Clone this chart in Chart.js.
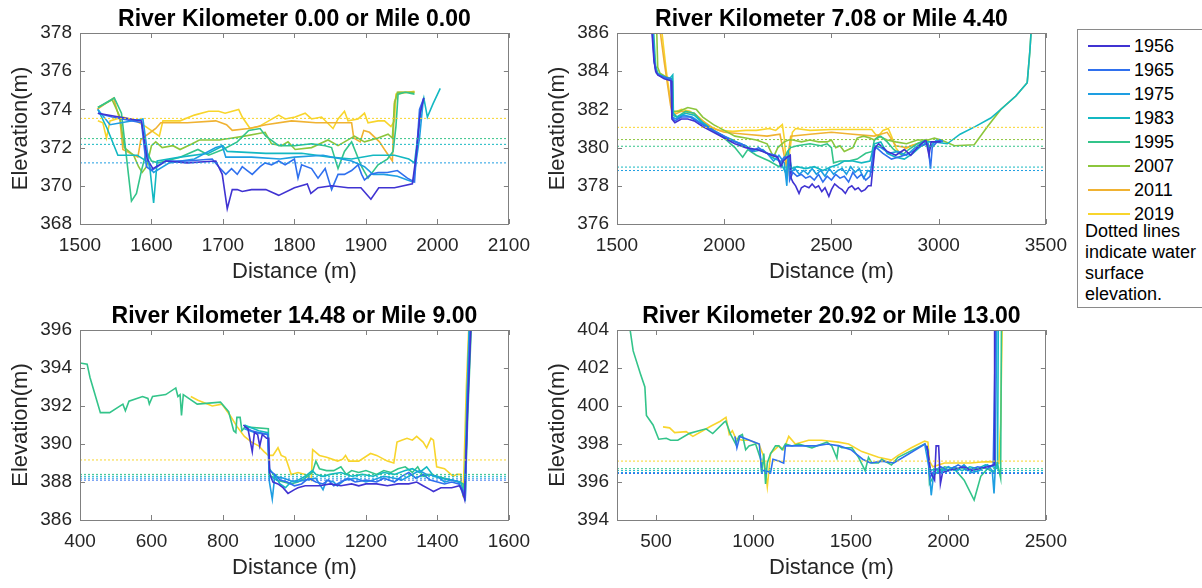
<!DOCTYPE html>
<html>
<head>
<meta charset="utf-8">
<script src="https://cdn.jsdelivr.net/npm/chart.js@4.4.1/dist/chart.umd.min.js"></script>
<style>
    body { margin: 0; background: #fff; width: 1202px; height: 588px; overflow: hidden; position: relative;
           font-family: "Liberation Sans", Arial, sans-serif; }
    canvas { position: absolute; }
    #legend { position: absolute; left: 1077px; top: 29px; width: 150px; height: 277px;
              border: 1px solid #8a8a8a; background: #fff; }
    .lg-line { position: absolute; left: 10px; width: 42px; height: 1.5px; }
    .lg-text { position: absolute; left: 56px; font-size: 18px; color: #000; line-height: 20px; }
    .lg-note { position: absolute; left: 7px; font-size: 18px; color: #000; line-height: 21px; top: 191px; }
</style>
</head>
<body>
<canvas id="c1" width="540" height="290" style="left:0;top:0"></canvas>
<canvas id="c2" width="540" height="290" style="left:537px;top:0"></canvas>
<canvas id="c3" width="540" height="289" style="left:0;top:297px"></canvas>
<canvas id="c4" width="540" height="289" style="left:537px;top:297px"></canvas>
<div id="legend"></div>
<script>
(function () {
    const years = ['1956', '1965', '1975', '1983', '1995', '2007', '2011', '2019'];
    const yearColors = ['#4033d2', '#2f70ee', '#1e9ee2', '#13b8c2', '#33c48a', '#8cc63c', '#f0b232', '#f8d52c'];
    const tickColor = '#262626';
    const frameColor = '#808080';
    const fontFamily = '"Liberation Sans", Arial, sans-serif';

    // ---- River Kilometer 0.00 ----
    const p1Title = 'River Kilometer 0.00 or Mile 0.00';
    const p1XTicks = [1500, 1600, 1700, 1800, 1900, 2000, 2100];
    const p1YTicks = [368, 370, 372, 374, 376, 378];
    const p1_1956 = [[1525,373.8],[1586,373.4],[1594,371.4],[1602,370.9],[1620,371.3],[1650,371.2],[1690,371.3],[1699,370.6],[1706,368.8],[1713,369.8],[1720,369.8],[1727,369.7],[1740,369.8],[1760,369.8],[1778,369.5],[1800,369.9],[1818,370.1],[1823,369.6],[1833,369.9],[1852,370.0],[1875,369.9],[1893,369.9],[1907,369.3],[1918,369.9],[1940,369.9],[1965,370.1],[1970,371.5],[1976,373.8],[1981,374.6]];
    const p1_1965 = [[1525,373.8],[1545,373.6],[1586,373.3],[1593,371.0],[1600,370.8],[1620,371.3],[1650,371.3],[1685,371.4],[1694,371.0],[1704,370.6],[1712,370.9],[1720,370.6],[1727,371.0],[1734,370.8],[1741,370.6],[1752,371.0],[1759,371.2],[1768,371.1],[1778,371.3],[1787,371.1],[1800,371.4],[1805,370.4],[1810,371.1],[1824,370.9],[1833,370.4],[1843,370.9],[1852,369.8],[1861,370.6],[1870,370.6],[1880,370.8],[1889,371.1],[1894,370.6],[1898,370.3],[1907,370.6],[1917,370.7],[1930,370.7],[1944,370.8],[1958,370.4],[1968,370.2],[1975,374.0],[1981,374.6]];
    const p1_1975 = [[1525,374.0],[1542,373.2],[1588,373.5],[1597,371.0],[1603,370.7],[1625,371.2],[1660,371.4],[1690,372.0],[1699,372.1],[1704,371.5],[1740,371.5],[1780,371.4],[1800,371.5],[1840,371.6],[1880,371.3],[1898,371.0],[1910,370.6],[1925,370.6],[1944,370.5],[1958,370.3],[1966,370.2],[1975,372.5],[1980,374.4]];
    const p1_1983 = [[1525,374.0],[1538,373.0],[1553,371.6],[1580,371.6],[1597,371.2],[1603,369.1],[1608,371.3],[1640,371.5],[1680,371.7],[1700,372.1],[1706,371.8],[1760,371.7],[1810,371.7],[1850,371.5],[1880,371.4],[1910,371.6],[1940,371.6],[1960,371.4],[1968,371.2],[1972,372.4],[1977,374.0],[1981,374.6],[1986,373.6],[1994,374.3],[2004,375.1]];
    const p1_1995 = [[1525,374.1],[1548,374.6],[1558,373.8],[1565,371.5],[1572,369.2],[1579,369.6],[1586,370.8],[1593,371.8],[1600,371.3],[1610,371.2],[1640,371.5],[1665,371.9],[1680,371.6],[1700,371.9],[1720,372.3],[1736,372.9],[1752,373.0],[1760,372.6],[1778,372.1],[1800,372.1],[1824,372.2],[1843,372.1],[1852,372.0],[1861,370.9],[1870,371.8],[1880,372.3],[1894,371.0],[1903,370.4],[1917,371.1],[1930,371.4],[1938,371.8],[1942,373.1],[1945,374.8],[1955,374.9],[1968,374.8]];
    const p1_2007 = [[1525,374.1],[1545,374.5],[1556,373.6],[1562,372.0],[1575,371.6],[1582,371.0],[1587,370.7],[1593,371.0],[1600,372.1],[1606,372.3],[1615,372.0],[1630,372.1],[1640,371.9],[1657,372.2],[1667,372.4],[1695,372.4],[1713,372.5],[1730,372.6],[1759,372.8],[1768,372.2],[1782,372.1],[1791,372.3],[1801,371.9],[1824,372.0],[1847,372.4],[1861,372.1],[1884,372.6],[1898,372.3],[1917,372.5],[1931,372.7],[1937,372.5],[1940,374.3],[1944,374.9],[1968,374.9]];
    const p1_2011 = [[1524,374.0],[1547,374.6],[1556,373.4],[1560,371.9],[1581,371.5],[1585,372.4],[1595,372.7],[1606,373.0],[1613,373.3],[1650,373.3],[1690,373.4],[1705,373.2],[1713,372.9],[1736,373.0],[1760,373.2],[1796,373.4],[1830,373.3],[1853,373.3],[1880,373.3],[1883,372.5],[1892,372.3],[1897,372.9],[1905,372.8],[1919,372.3],[1926,371.9],[1937,371.3],[1940,374.4],[1945,374.9],[1968,374.9]];
    const p1_2019 = [[1525,373.4],[1532,373.3],[1537,372.5],[1542,373.4],[1560,373.6],[1578,373.4],[1592,373.1],[1611,372.6],[1616,373.4],[1640,373.4],[1660,373.7],[1680,373.9],[1694,373.9],[1703,373.8],[1722,374.0],[1727,373.6],[1738,373.0],[1750,373.1],[1764,373.4],[1778,373.7],[1787,373.5],[1801,373.6],[1815,373.8],[1824,373.5],[1838,373.6],[1854,373.0],[1861,373.5],[1870,373.9],[1875,373.4],[1889,373.5],[1898,373.8],[1903,373.3],[1917,373.4],[1926,373.4],[1935,373.1],[1940,373.4],[1942,374.8],[1968,374.95]];
    const p1Wse = [null, null, 371.2, 372.17, 372.47, null, null, 373.53];

    // ---- River Kilometer 7.08 ----
    const p2Title = 'River Kilometer 7.08 or Mile 4.40';
    const p2XTicks = [1500, 2000, 2500, 3000, 3500];
    const p2YTicks = [376, 378, 380, 382, 384, 386];
    const p2_1956 = [[1662,386.2],[1672,384.6],[1680,384.0],[1690,383.8],[1720,383.6],[1752,383.5],[1756,381.5],[1770,381.3],[1800,381.5],[1830,381.5],[1860,381.4],[1900,381.1],[1950,380.8],[2000,380.5],[2050,380.2],[2100,380.0],[2150,379.9],[2180,379.8],[2220,379.6],[2250,379.5],[2265,379.0],[2275,379.3],[2295,379.5],[2308,379.6],[2312,378.4],[2320,378.2],[2333,378.0],[2349,377.6],[2360,377.9],[2375,378.0],[2395,377.9],[2410,378.1],[2425,377.9],[2440,378.0],[2455,377.7],[2470,377.9],[2488,377.45],[2500,377.8],[2515,378.1],[2535,377.9],[2550,377.8],[2565,377.6],[2580,377.9],[2595,378.0],[2610,377.8],[2625,377.9],[2640,377.7],[2657,377.8],[2672,378.0],[2685,378.0],[2690,378.6],[2703,380.0],[2720,380.2],[2760,379.8],[2800,379.6],[2840,379.9],[2870,379.6],[2900,380.0],[2940,380.4],[2955,379.6],[2965,380.3],[3010,380.3]];
    const p2_1965 = [[1664,386.2],[1674,384.5],[1682,384.0],[1692,383.8],[1720,383.7],[1752,383.6],[1757,381.6],[1770,381.4],[1800,381.6],[1840,381.6],[1870,381.4],[1900,381.2],[1950,380.9],[2000,380.6],[2050,380.3],[2100,380.1],[2130,379.8],[2160,380.0],[2200,379.7],[2240,379.6],[2260,379.2],[2280,379.5],[2300,379.5],[2305,378.3],[2320,378.7],[2340,378.5],[2360,378.6],[2380,378.4],[2400,378.5],[2420,378.3],[2440,378.6],[2460,378.2],[2480,378.5],[2500,378.3],[2520,378.6],[2540,378.4],[2560,378.5],[2580,378.2],[2600,378.7],[2620,378.4],[2640,378.6],[2660,378.3],[2680,378.5],[2695,379.8],[2710,380.0],[2740,379.7],[2780,379.4],[2810,379.5],[2840,379.6],[2880,379.8],[2920,380.1],[2950,380.2],[2962,378.9],[2970,380.0],[3000,380.4],[3020,380.3]];
    const p2_1975 = [[1666,386.2],[1675,384.4],[1684,383.9],[1700,383.8],[1740,383.6],[1754,383.5],[1758,381.6],[1775,381.5],[1810,381.7],[1850,381.6],[1890,381.3],[1930,381.0],[1980,380.7],[2030,380.4],[2080,380.2],[2120,379.9],[2160,379.9],[2200,379.7],[2230,379.3],[2255,379.6],[2280,379.2],[2292,378.0],[2298,379.4],[2310,378.7],[2330,378.9],[2350,378.6],[2370,378.8],[2390,378.6],[2410,378.9],[2430,378.6],[2450,378.8],[2470,378.5],[2490,378.9],[2510,378.6],[2530,378.8],[2550,378.9],[2570,378.6],[2590,379.0],[2610,378.7],[2630,378.9],[2650,378.4],[2670,378.8],[2690,378.7],[2700,380.1],[2730,380.0],[2770,379.7],[2810,379.8],[2850,379.6],[2890,380.0],[2930,380.3],[2960,380.0],[2990,380.4],[3020,380.4]];
    const p2_1983 = [[1668,386.2],[1676,384.4],[1686,383.9],[1710,383.7],[1745,383.6],[1760,383.8],[1763,381.8],[1780,381.6],[1820,381.8],[1860,381.7],[1900,381.3],[1950,380.9],[2000,380.6],[2040,380.4],[2070,380.2],[2100,380.1],[2140,379.8],[2180,379.9],[2220,379.5],[2260,379.3],[2290,378.6],[2300,379.7],[2315,378.9],[2340,379.0],[2380,378.9],[2420,379.0],[2460,378.8],[2500,379.0],[2530,379.1],[2560,379.3],[2600,379.3],[2640,379.2],[2680,379.3],[2700,380.2],[2730,380.3],[2760,379.7],[2800,379.5],[2840,379.4],[2880,379.7],[2920,380.1],[2950,380.3],[2980,380.3],[3040,380.2],[3100,380.7],[3170,381.1],[3243,381.55],[3300,382.1],[3360,382.7],[3413,383.4],[3425,385.0],[3432,386.2]];
    const p2_1995 = [[1670,386.2],[1680,384.3],[1690,383.9],[1720,383.7],[1755,383.6],[1760,381.7],[1780,381.6],[1820,381.9],[1860,381.8],[1900,381.3],[1950,380.9],[2000,380.5],[2050,380.0],[2086,379.5],[2110,379.9],[2150,379.6],[2210,379.3],[2256,379.0],[2280,379.4],[2295,379.8],[2310,380.0],[2340,380.1],[2400,380.2],[2450,380.1],[2480,380.2],[2500,380.0],[2510,379.2],[2540,379.3],[2580,379.3],[2620,379.4],[2660,379.7],[2690,379.8],[2700,380.4],[2730,380.6],[2760,380.3],[2790,379.9],[2830,379.6],[2860,379.9],[2900,380.2],[2940,380.4],[2960,380.0],[2980,380.3],[3020,380.4]];
    const p2_2007 = [[1685,386.2],[1690,384.2],[1700,383.9],[1730,383.7],[1758,383.6],[1762,381.9],[1790,381.9],[1830,382.1],[1870,382.0],[1900,381.6],[1950,381.2],[2000,380.9],[2050,380.6],[2100,380.5],[2150,380.4],[2200,380.2],[2230,379.5],[2250,380.0],[2280,380.3],[2300,380.4],[2320,380.4],[2360,380.3],[2400,380.4],[2440,380.3],[2480,380.3],[2500,380.4],[2520,380.0],[2540,380.1],[2560,379.8],[2580,379.9],[2600,380.0],[2620,380.5],[2650,380.6],[2680,380.5],[2700,380.4],[2720,380.6],[2740,380.5],[2760,380.4],[2800,380.3],[2850,380.2],[2900,380.4],[2950,380.4],[2980,380.5],[3012,380.4],[3074,380.1],[3166,380.15],[3228,381.1],[3290,382.0],[3360,382.7],[3413,383.4],[3425,385.0],[3432,386.2]];
    const p2_2011 = [[1700,386.2],[1720,384.5],[1750,382.2],[1760,381.7],[1800,381.9],[1860,381.8],[1900,381.4],[1950,381.0],[2000,380.8],[2100,380.7],[2200,380.6],[2260,380.7],[2290,379.0],[2310,380.6],[2400,380.7],[2500,380.8],[2600,380.7],[2700,380.6],[2760,380.8],[2800,380.1],[2850,380.0],[2900,380.2],[2950,380.4]];
    const p2_2019 = [[1708,386.2],[1730,384.0],[1755,382.0],[1762,381.8],[1800,382.0],[1840,381.9],[1880,381.6],[1930,381.1],[1980,380.9],[2040,380.85],[2100,380.9],[2150,380.9],[2210,381.0],[2240,380.9],[2271,381.2],[2280,380.5],[2287,379.5],[2295,378.5],[2305,379.8],[2318,380.8],[2333,381.0],[2400,380.9],[2500,380.95],[2600,380.95],[2688,380.95],[2705,380.7],[2719,380.6],[2740,380.9],[2765,381.0],[2780,380.6],[2800,380.0],[2819,379.7],[2840,379.9],[2870,380.1],[2900,380.2],[2943,380.4],[2958,380.3]];
    const p2Wse = [null, null, 378.8, 378.98, 380.07, 380.42, null, 381.06];

    // ---- River Kilometer 14.48 ----
    const p3Title = 'River Kilometer 14.48 or Mile 9.00';
    const p3XTicks = [400, 600, 800, 1000, 1200, 1400, 1600];
    const p3YTicks = [386, 388, 390, 392, 394, 396];
    const p3_1956 = [[857,391.0],[870,390.8],[878,390.0],[882,389.6],[888,390.6],[897,390.5],[903,389.9],[910,390.5],[922,390.3],[928,390.3],[931,388.4],[940,388.0],[954,387.9],[968,387.7],[982,387.4],[1000,387.6],[1010,387.7],[1030,387.8],[1050,387.8],[1070,387.8],[1100,387.9],[1130,387.8],[1160,387.9],[1180,387.8],[1200,387.9],[1230,387.9],[1260,387.8],[1290,387.9],[1320,387.9],[1342,388.0],[1360,387.8],[1380,387.6],[1389,387.5],[1410,387.7],[1440,387.7],[1462,387.8],[1470,387.5],[1476,387.1],[1485,392.0],[1494,396.2]];
    const p3_1965 = [[860,390.9],[880,390.7],[900,390.6],[925,390.5],[930,388.6],[945,388.4],[960,388.1],[980,388.0],[1000,387.8],[1020,387.9],[1040,388.2],[1060,388.0],[1080,387.9],[1095,388.1],[1110,387.8],[1130,388.0],[1150,388.2],[1170,388.0],[1200,388.1],[1230,388.0],[1250,388.2],[1280,388.0],[1300,388.3],[1320,388.5],[1340,388.2],[1360,388.4],[1380,388.1],[1400,388.0],[1420,387.9],[1440,388.0],[1460,387.9],[1470,387.6],[1478,387.2],[1484,392.0],[1492,396.2]];
    const p3_1975 = [[860,390.8],[890,390.6],[925,390.5],[930,388.0],[938,387.1],[945,388.3],[970,388.2],[1000,388.0],[1030,388.1],[1060,388.2],[1080,387.6],[1090,388.1],[1110,388.0],[1120,387.8],[1140,388.1],[1170,388.2],[1200,388.0],[1220,388.1],[1250,388.3],[1280,388.2],[1300,388.1],[1320,388.3],[1350,388.6],[1370,388.4],[1400,388.3],[1420,388.0],[1440,388.1],[1460,388.0],[1472,387.3],[1478,387.1],[1483,392.0],[1490,396.2]];
    const p3_1983 = [[860,391.0],[900,390.7],[926,390.6],[930,388.7],[945,388.3],[960,387.9],[975,387.7],[990,388.0],[1010,388.1],[1030,388.3],[1050,388.6],[1060,388.4],[1080,388.3],[1100,388.4],[1130,388.5],[1160,388.3],[1190,388.4],[1220,388.3],[1250,388.5],[1280,388.4],[1310,388.6],[1330,388.7],[1350,388.5],[1370,388.8],[1390,388.3],[1410,388.2],[1440,388.1],[1465,388.0],[1476,387.3],[1482,392.0],[1489,396.2]];
    const p3_1995 = [[400,394.26],[420,394.2],[428,393.5],[457,391.65],[483,391.65],[520,392.1],[527,391.75],[537,392.25],[575,392.5],[590,392.4],[594,392.1],[603,392.5],[640,392.6],[668,392.95],[674,392.5],[680,392.6],[684,391.5],[689,392.6],[728,392.1],[793,392.2],[816,391.7],[830,390.7],[836,390.6],[839,391.4],[848,391.4],[853,390.7],[862,390.9],[927,390.8],[929,388.5],[935,388.3],[950,388.1],[970,388.0],[990,387.9],[1010,388.0],[1030,388.2],[1050,388.5],[1060,389.1],[1070,388.7],[1090,388.6],[1110,388.6],[1130,388.8],[1145,388.4],[1160,388.6],[1180,388.5],[1200,388.6],[1230,388.4],[1250,388.6],[1270,388.5],[1290,388.7],[1310,388.8],[1330,388.5],[1345,388.8],[1360,388.3],[1380,388.4],[1398,388.3],[1420,388.2],[1440,388.1],[1460,388.0],[1472,387.9],[1478,387.3],[1485,391.5],[1495,396.2]];
    const p3_2019 = [[710,392.5],[730,392.3],[770,392.0],[797,392.1],[820,391.5],[840,390.9],[860,390.4],[880,390.1],[900,389.9],[915,389.6],[927,389.4],[940,389.4],[954,389.8],[963,389.4],[975,389.3],[991,388.4],[1010,388.5],[1030,388.4],[1047,388.1],[1051,389.7],[1070,389.4],[1090,389.3],[1121,389.1],[1135,389.2],[1143,389.4],[1152,389.1],[1180,389.1],[1213,389.5],[1230,389.4],[1260,389.1],[1278,389.0],[1287,390.1],[1300,390.2],[1315,390.3],[1330,390.2],[1342,390.4],[1360,390.1],[1370,389.8],[1382,390.3],[1389,390.2],[1398,388.8],[1420,388.7],[1444,388.3],[1455,388.4],[1465,388.4],[1472,387.2],[1481,393.0],[1488,396.2]];
    const p3Wse = [null, 388.1, 388.2, 388.3, 388.4, null, null, 389.16];

    // ---- River Kilometer 20.92 ----
    const p4Title = 'River Kilometer 20.92 or Mile 13.00';
    const p4XTicks = [500, 1000, 1500, 2000, 2500];
    const p4YTicks = [394, 396, 398, 400, 402, 404];
    const p4_1956 = [[1890,397.9],[1910,396.5],[1929,396.1],[1937,397.9],[1950,397.9],[1959,395.9],[1970,396.5],[2000,396.6],[2040,396.7],[2080,396.8],[2120,396.6],[2160,396.7],[2200,396.8],[2234,396.9],[2237,404.2]];
    const p4_1965 = [[905,398.4],[915,397.8],[930,398.4],[980,398.2],[1030,398.0],[1042,396.6],[1060,396.6],[1088,396.5],[1100,397.2],[1130,397.1],[1155,397.0],[1164,397.9],[1200,397.9],[1260,397.9],[1320,397.9],[1380,398.0],[1440,397.9],[1500,397.7],[1560,397.2],[1600,397.0],[1660,397.1],[1720,397.0],[1800,397.5],[1880,398.0],[1895,397.6],[1905,396.2],[1920,396.5],[1960,396.8],[2000,396.6],[2050,396.9],[2100,396.6],[2150,396.8],[2200,396.7],[2230,396.9],[2242,404.2]];
    const p4_1975 = [[1880,397.9],[1900,396.8],[1912,395.3],[1925,396.5],[1960,396.5],[2000,396.8],[2040,396.6],[2080,396.9],[2120,396.5],[2160,396.6],[2200,396.9],[2225,396.6],[2234,395.4],[2240,396.6],[2248,404.2]];
    const p4_1983 = [[1890,397.9],[1905,396.6],[1940,396.7],[1990,396.6],[2030,396.8],[2070,396.6],[2110,396.8],[2150,396.7],[2190,396.9],[2230,396.8],[2252,396.7],[2256,404.2]];
    const p4_1995 = [[366,404.1],[383,402.9],[420,401.7],[443,401.0],[451,399.5],[485,399.0],[514,398.25],[553,398.3],[575,398.2],[612,398.2],[672,398.56],[720,398.7],[757,398.8],[791,398.55],[850,399.15],[858,399.2],[883,398.5],[909,398.0],[925,398.4],[943,398.5],[960,397.7],[977,397.9],[1011,398.0],[1037,397.2],[1042,396.45],[1053,397.5],[1062,395.9],[1071,397.0],[1088,397.5],[1113,397.9],[1130,397.9],[1147,397.7],[1164,398.0],[1198,397.9],[1232,398.0],[1300,397.8],[1351,398.0],[1377,398.1],[1402,397.9],[1428,397.25],[1436,397.9],[1453,397.8],[1505,397.8],[1539,397.3],[1573,396.6],[1590,397.3],[1607,397.0],[1641,397.0],[1658,397.2],[1708,396.9],[1742,397.3],[1800,397.6],[1878,398.0],[1895,397.7],[1903,395.9],[1929,396.4],[1980,396.8],[2030,396.7],[2081,396.1],[2132,395.05],[2166,396.3],[2200,396.7],[2234,396.5],[2251,397.0],[2268,396.2],[2272,404.2]];
    const p4_2019 = [[536,398.9],[570,398.85],[596,398.6],[655,398.65],[689,398.4],[740,398.7],[783,398.95],[830,399.2],[859,399.4],[876,398.5],[892,398.7],[909,398.3],[943,398.2],[977,398.2],[1028,398.0],[1054,397.3],[1071,395.75],[1088,397.5],[1130,397.9],[1155,397.7],[1181,398.4],[1215,398.0],[1283,398.2],[1350,398.2],[1436,398.1],[1488,398.0],[1556,397.6],[1641,397.3],[1708,397.15],[1742,397.4],[1810,397.8],[1878,398.15],[1895,398.1],[1903,397.1],[1920,396.8],[1980,397.0],[2050,397.0],[2115,397.0],[2170,397.05],[2217,397.07],[2259,396.98],[2268,399.1],[2276,404.2]];
    const p4Wse = [null, 396.45, 396.5, 396.6, 396.7, null, null, 397.1];

    const plots = [
        { id: 'c1', title: p1Title, xLim: [1500, 2100], yLim: [368, 378], xTicks: p1XTicks, yTicks: p1YTicks,
          series: [p1_1956, p1_1965, p1_1975, p1_1983, p1_1995, p1_2007, p1_2011, p1_2019], wse: p1Wse },
        { id: 'c2', title: p2Title, xLim: [1500, 3500], yLim: [376, 386], xTicks: p2XTicks, yTicks: p2YTicks,
          series: [p2_1956, p2_1965, p2_1975, p2_1983, p2_1995, p2_2007, p2_2011, p2_2019], wse: p2Wse },
        { id: 'c3', title: p3Title, xLim: [400, 1600], yLim: [386, 396], xTicks: p3XTicks, yTicks: p3YTicks,
          series: [p3_1956, p3_1965, p3_1975, p3_1983, p3_1995, null, null, p3_2019], wse: p3Wse },
        { id: 'c4', title: p4Title, xLim: [300, 2500], yLim: [394, 404], xTicks: p4XTicks, yTicks: p4YTicks,
          series: [p4_1956, p4_1965, p4_1975, p4_1983, p4_1995, null, null, p4_2019], wse: p4Wse }
    ];

    // box + inward tick marks, MATLAB style
    const framePlugin = {
        id: 'frame',
        afterDraw: function (chart) {
            const ctx = chart.ctx;
            const a = chart.chartArea;
            const xs = chart.scales.x;
            const ys = chart.scales.y;
            const len = 5;
            ctx.save();
            ctx.strokeStyle = frameColor;
            ctx.lineWidth = 1;
            ctx.beginPath();
            ctx.rect(Math.round(a.left) + 0.5, Math.round(a.top) + 0.5,
                     Math.round(a.right - a.left) - 1, Math.round(a.bottom - a.top));
            xs.ticks.forEach(function (t) {
                const px = Math.round(xs.getPixelForValue(t.value)) + 0.5;
                ctx.moveTo(px, a.bottom); ctx.lineTo(px, a.bottom - len);
                ctx.moveTo(px, a.top); ctx.lineTo(px, a.top + len);
            });
            ys.ticks.forEach(function (t) {
                const py = Math.round(ys.getPixelForValue(t.value)) + 0.5;
                ctx.moveTo(a.left, py); ctx.lineTo(a.left + len, py);
                ctx.moveTo(a.right, py); ctx.lineTo(a.right - len, py);
            });
            ctx.stroke();
            ctx.restore();
        }
    };

    function toPoints(arr) {
        return arr.map(function (p) { return { x: p[0], y: p[1] }; });
    }

    function plainLabel(value) {
        return String(value);
    }

    function createChartConfig(plot) {
        const datasets = [];
        plot.wse.forEach(function (w, i) {
            if (w === null) return;
            datasets.push({
                label: years[i] + ' WSE',
                data: [{ x: plot.xLim[0], y: w }, { x: plot.xLim[1], y: w }],
                borderColor: yearColors[i],
                borderWidth: 1,
                borderDash: [2, 2],
                pointRadius: 0,
                clip: 0
            });
        });
        plot.series.forEach(function (s, i) {
            if (!s) return;
            datasets.push({
                label: years[i],
                data: toPoints(s),
                borderColor: yearColors[i],
                borderWidth: 1.6,
                pointRadius: 0,
                tension: 0,
                clip: 0
            });
        });
        return {
            type: 'line',
            data: { datasets: datasets },
            options: {
                responsive: false,
                animation: false,
                events: [],
                layout: { padding: { left: 0, right: 28, top: 0, bottom: 0 } },
                plugins: {
                    legend: { display: false },
                    tooltip: { enabled: false },
                    title: {
                        display: true,
                        fullSize: false,
                        text: plot.title,
                        color: '#000',
                        font: { family: fontFamily, size: 23, weight: 'bold', lineHeight: 1 },
                        padding: { top: 8, bottom: 2 }
                    }
                },
                scales: {
                    x: {
                        type: 'linear',
                        min: plot.xLim[0],
                        max: plot.xLim[1],
                        afterBuildTicks: function (axis) {
                            axis.ticks = plot.xTicks.map(function (v) { return { value: v }; });
                        },
                        afterFit: function (axis) { axis.height = 66; },
                        ticks: { color: tickColor, font: { family: fontFamily, size: 19 }, padding: 10,
                                 maxRotation: 0, autoSkip: false, callback: plainLabel },
                        grid: { display: false, drawTicks: false },
                        border: { display: false },
                        title: { display: true, text: 'Distance (m)', color: tickColor,
                                 font: { family: fontFamily, size: 22 }, padding: { top: 0, bottom: 5 } }
                    },
                    y: {
                        type: 'linear',
                        min: plot.yLim[0],
                        max: plot.yLim[1],
                        afterBuildTicks: function (axis) {
                            axis.ticks = plot.yTicks.map(function (v) { return { value: v }; });
                        },
                        afterFit: function (axis) { axis.width = 80; },
                        ticks: { color: tickColor, font: { family: fontFamily, size: 19 }, padding: 8,
                                 callback: plainLabel },
                        grid: { display: false, drawTicks: false },
                        border: { display: false },
                        title: { display: true, text: 'Elevation(m)', color: tickColor,
                                 font: { family: fontFamily, size: 22 }, padding: { top: 8, bottom: 0 } }
                    }
                }
            },
            plugins: [framePlugin]
        };
    }

    plots.forEach(function (plot) {
        const canvas = document.getElementById(plot.id);
        new Chart(canvas.getContext('2d'), createChartConfig(plot));
    });

    // legend box on the right
    const legend = document.getElementById('legend');
    years.forEach(function (y, i) {
        const top = 15 + i * 24;
        const line = document.createElement('div');
        line.className = 'lg-line';
        line.style.top = top + 'px';
        line.style.background = yearColors[i];
        legend.appendChild(line);
        const txt = document.createElement('div');
        txt.className = 'lg-text';
        txt.style.top = (top - 9) + 'px';
        txt.textContent = y;
        legend.appendChild(txt);
    });
    const note = document.createElement('div');
    note.className = 'lg-note';
    note.innerHTML = 'Dotted lines<br>indicate water<br>surface<br>elevation.';
    legend.appendChild(note);
})();
</script>
</body>
</html>
